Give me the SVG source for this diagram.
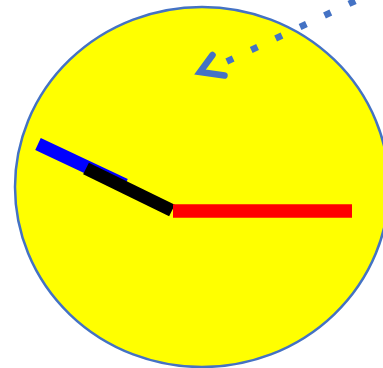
<svg xmlns="http://www.w3.org/2000/svg" width="383" height="368" viewBox="0 0 383 368">
  <style>
    .face { fill: #FFFF00; stroke: #4472C4; stroke-width: 2.5; }
    .hand { fill: none; stroke-linecap: butt; }
    .conn { fill: none; stroke: #4472C4; stroke-width: 6.5; }
  </style>
  <g id="clock-face">
    <ellipse class="face" cx="202" cy="187" rx="187" ry="180"/>
  </g>
  <g id="blue-hand">
    <line class="hand" x1="38" y1="144" x2="125" y2="185" stroke="#0000FF" stroke-width="13"/>
  </g>
  <g id="black-hand">
    <line class="hand" x1="86" y1="168.5" x2="172" y2="210.5" stroke="#000000" stroke-width="13"/>
  </g>
  <g id="red-hand">
    <line class="hand" x1="173" y1="211" x2="352" y2="211" stroke="#FF0000" stroke-width="13.5"/>
  </g>
  <g id="connectors">
    <line class="conn" x1="226.8" y1="61.5" x2="420" y2="-29.6" stroke-dasharray="7 20"/>
    <polyline class="conn" points="212.5,55 200,72 224.5,75.5" stroke-width="7" stroke-linecap="round" stroke-linejoin="miter"/>
  </g>
</svg>
